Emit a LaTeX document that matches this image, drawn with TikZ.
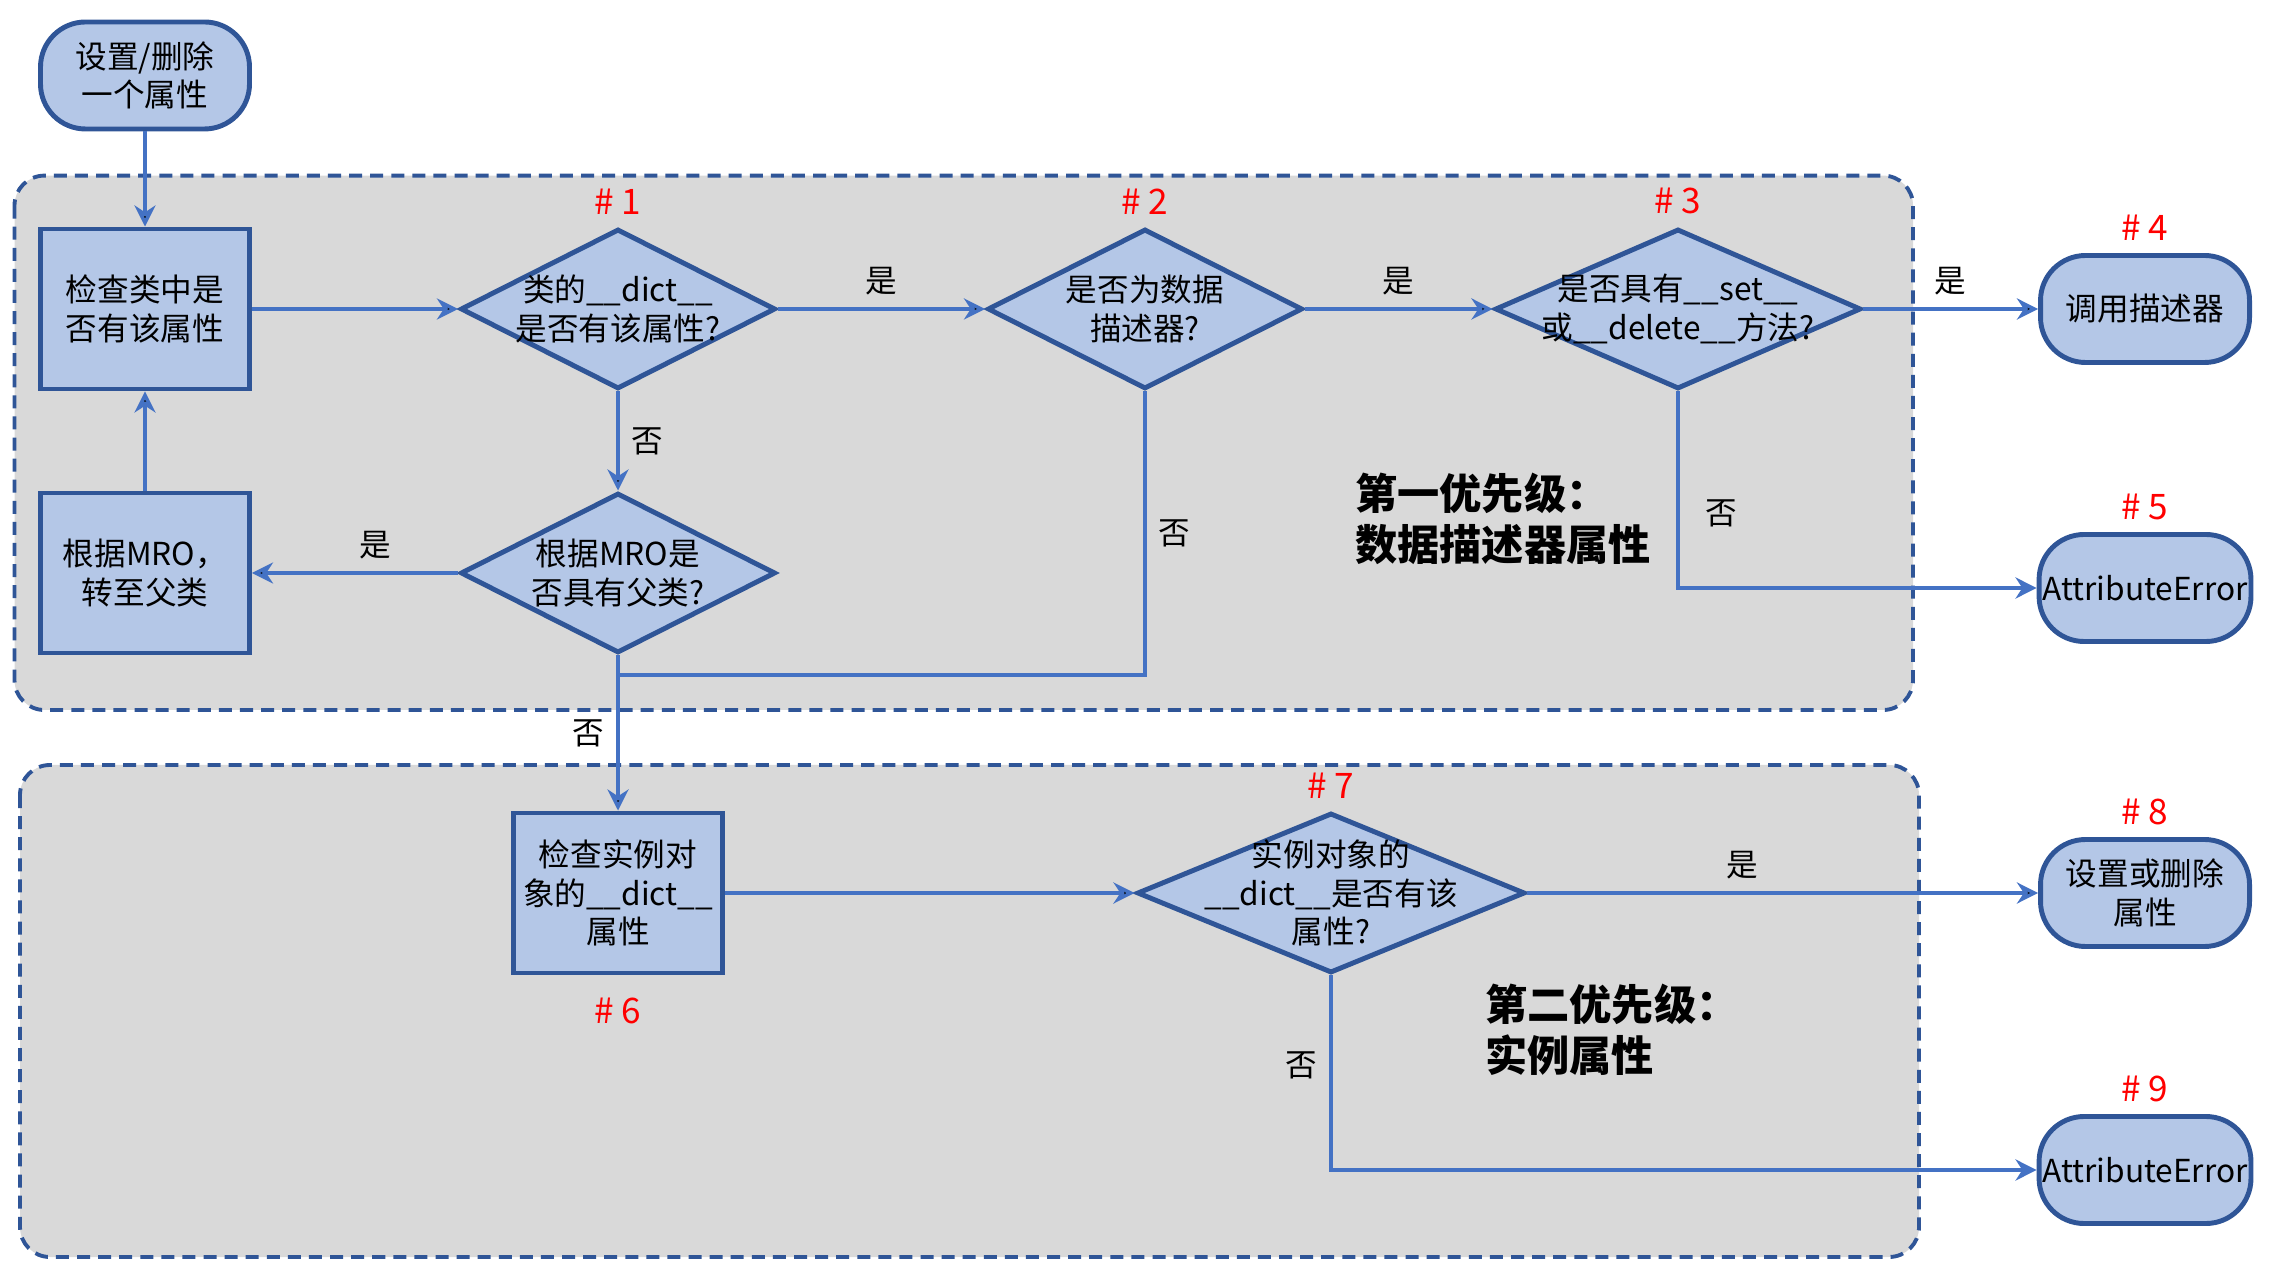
\documentclass[tikz,border=0pt]{standalone}
\usepackage{fontspec}
\setmainfont{Noto Sans CJK SC}
\usetikzlibrary{shapes.geometric,positioning,arrows.meta}

\definecolor{boxfill}{HTML}{B4C7E7}
\definecolor{boxline}{HTML}{2F5597}
\definecolor{arrline}{HTML}{4472C4}
\definecolor{zonefill}{HTML}{D9D9D9}

\tikzset{
  process/.style={rectangle, draw=boxline, fill=boxfill, line width=1.4pt, minimum width=2.09cm, minimum height=1.6cm, align=center, inner sep=1pt},
  decision/.style={diamond, draw=boxline, fill=boxfill, line width=1.4pt, minimum width=3.15cm, minimum height=1.6cm, align=center, inner sep=-12pt, shape aspect=2},
  terminal/.style={rectangle, rounded corners=0.45cm, draw=boxline, fill=boxfill, line width=1.4pt, minimum width=2.09cm, minimum height=1.07cm, align=center, inner sep=1pt},
  zone/.style={draw=boxline, fill=zonefill, line width=1.1pt, dash pattern=on 3.7pt off 2.3pt, rounded corners=0.3cm},
  flow/.style={draw=arrline, line width=1pt, -{Stealth[length=6pt,width=6pt]}},
  numlbl/.style={text=red, font=\fontsize{10}{12}\selectfont},
  prio/.style={font=\fontsize{12}{14.6}\selectfont\bfseries, align=left, anchor=west}
}

\begin{document}
\begin{tikzpicture}[on grid, node distance=2.64cm, font=\fontsize{9}{11}\selectfont]
\useasboundingbox (0,0) rectangle (22.76,-12.80);
\draw[zone] (0.145,-1.756) rectangle (19.13,-7.10);
\draw[zone] (0.20,-7.65) rectangle (19.19,-12.57);

\node[terminal] (start) at (1.45,-0.755) {设置/删除\\一个属性};
\node[process] (chk_cls) [below=2.335cm of start] {检查类中是\\否有该属性};
\node[process] (mro_box) [below=of chk_cls] {根据MRO，\\转至父类};
\node[decision, label={[numlbl]above:\# 1}] (d_1) [right=4.73cm of chk_cls] {类的\_\_dict\_\_\\是否有该属性?};
\node[decision] (d_mro) [below=of d_1] {根据MRO是\\否具有父类?};
\node[decision, label={[numlbl]above:\# 2}] (d_2) [right=5.27cm of d_1] {是否为数据\\描述器?};
\node[decision, minimum width=3.66cm, label={[numlbl]above:\# 3}] (d_3) [right=5.33cm of d_2] {是否具有\_\_set\_\_\\或\_\_delete\_\_方法?};
\node[terminal, label={[numlbl]above:\# 4}] (t_4) [right=4.67cm of d_3] {调用描述器};
\node[terminal, label={[numlbl]above:\# 5}] (t_5) [below=2.79cm of t_4] {AttributeError};
\coordinate[below=1.02cm of d_mro] (join);

\node[process, label={[numlbl, label distance=0.1cm]below:\# 6}] (chk_inst) [below=5.84cm of d_1] {检查实例对\\象的\_\_dict\_\_\\属性};
\node[decision, minimum width=3.88cm, label={[numlbl]above:\# 7}] (d_7) [right=7.13cm of chk_inst] {实例对象的\\\_\_dict\_\_是否有该\\属性?};
\node[terminal, label={[numlbl]above:\# 8}] (t_8) [right=8.14cm of d_7] {设置或删除\\属性};
\node[terminal, label={[numlbl]above:\# 9}] (t_9) [below=2.77cm of t_8] {AttributeError};

\node[prio] (prio_1) at (13.43,-5.19) {第一优先级：\\数据描述器属性};
\node[prio] (prio_2) at (14.73,-10.30) {第二优先级：\\实例属性};

\path[flow]
(start) edge (chk_cls)
(chk_cls) edge (d_1)
(d_1) edge node[above] {是} (d_2) edge node[right] {否} (d_mro)
(d_2) edge node[above] {是} (d_3)
(d_3) edge node[above] {是} (t_4)
(d_mro) edge node[above, pos=0.4] {是} (mro_box) edge node[left] {否} (chk_inst)
(mro_box) edge (chk_cls)
(chk_inst) edge (d_7)
(d_7) edge node[above, pos=0.42] {是} (t_8);
\draw[flow, -] (d_2) |- node[right, pos=0.25] {否} (join);
\draw[flow] (d_3) |- node[right=4pt, pos=0.31] {否} (t_5);
\draw[flow] (d_7) |- node[left, pos=0.23] {否} (t_9);
\end{tikzpicture}
\end{document}
